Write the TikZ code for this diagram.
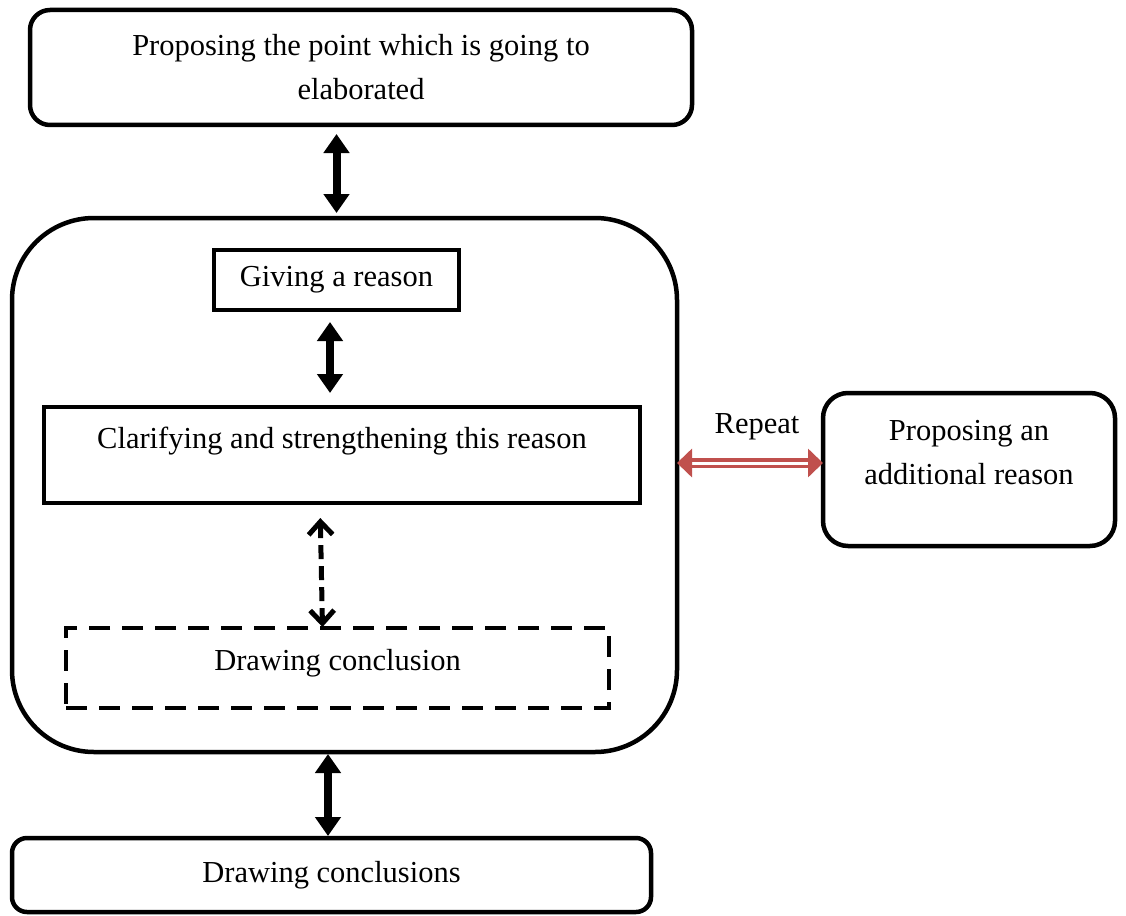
\documentclass[tikz,border=0pt]{standalone}
\usepackage{fontspec}
\setmainfont{Liberation Serif}
\usetikzlibrary{arrows.meta,positioning}

\definecolor{repeatred}{RGB}{192,80,77}

\tikzset{
  box/.style={draw,line width=4.5pt,inner sep=0pt,outer sep=0pt,align=center},
  roundbox/.style={box,rounded corners=#1},
  plainbox/.style={box},
  dashbox/.style={box,dash pattern=on 21pt off 12pt},
  bigarrow/.style={line width=8pt,{Triangle[width=25pt,length=19pt]}-{Triangle[width=25pt,length=19pt]}},
  dasharrow/.style={line width=5pt,dash pattern=on 14pt off 7pt,{Straight Barb[width=24pt,length=13pt]}-{Straight Barb[width=24pt,length=13pt]}},
  repeatarrow/.style={repeatred,line width=3.5pt,double=white,double distance=3pt,{Triangle[width=28pt,length=15pt]}-{Triangle[width=28pt,length=15pt]}}
}

\begin{document}
\begin{tikzpicture}[x=1pt,y=-1pt,font=\fontsize{30.5}{44}\selectfont]

            \useasboundingbox (0,0) rectangle (1126,915);

            \node[roundbox=20pt,minimum width=662pt,minimum height=115pt] (top) at (361,67.5) {Proposing the point which is going to\\elaborated};

            \node[roundbox=82pt,minimum width=665pt,minimum height=534pt] (frame) at (344.5,485) {};

            \node[plainbox,minimum width=245pt,minimum height=60pt] (reason) at (336.5,280) {Giving a reason};

            \node[plainbox,minimum width=596pt,text height=41pt,text depth=55pt] (clarify) [below=97pt of reason,xshift=5.5pt] {Clarifying and strengthening this reason};

            \node[dashbox,minimum width=543pt,text height=42pt,text depth=38pt] (concl) [below=125pt of clarify,xshift=-4.5pt] {Drawing conclusion};

            \node[roundbox=15pt,minimum width=639pt,minimum height=74pt] (bottom) at (331.5,875) {Drawing conclusions};

            \node[roundbox=25pt,minimum width=292pt,minimum height=153pt] (extra) [right=146pt of frame,yshift=15.5pt] {Proposing an\\additional reason\rule[-34pt]{0pt}{1pt}};

            

            \draw[bigarrow,shorten <=9pt,shorten >=5pt] (top.south -| reason) -- (frame.north -| reason);

            \draw[bigarrow,shorten <=12pt,shorten >=14pt] ([xshift=-6.5pt]reason.south) -- ([xshift=-6.5pt]reason.south |- clarify.north);

            \draw[dasharrow,shorten <=15pt,shorten >=1pt] ([xshift=-22pt]clarify.south) -- ([xshift=-15pt]concl.north);

            \draw[bigarrow,shorten <=2pt,shorten >=2pt] ([xshift=-16.5pt]frame.south) -- ([xshift=-16.5pt]frame.south |- bottom.north);

            \draw[repeatarrow] ([yshift=22pt]frame.east) -- ([yshift=6.5pt]extra.west) node[midway,above=18pt,xshift=7pt,black] {Repeat};

        \end{tikzpicture}
\end{document}
